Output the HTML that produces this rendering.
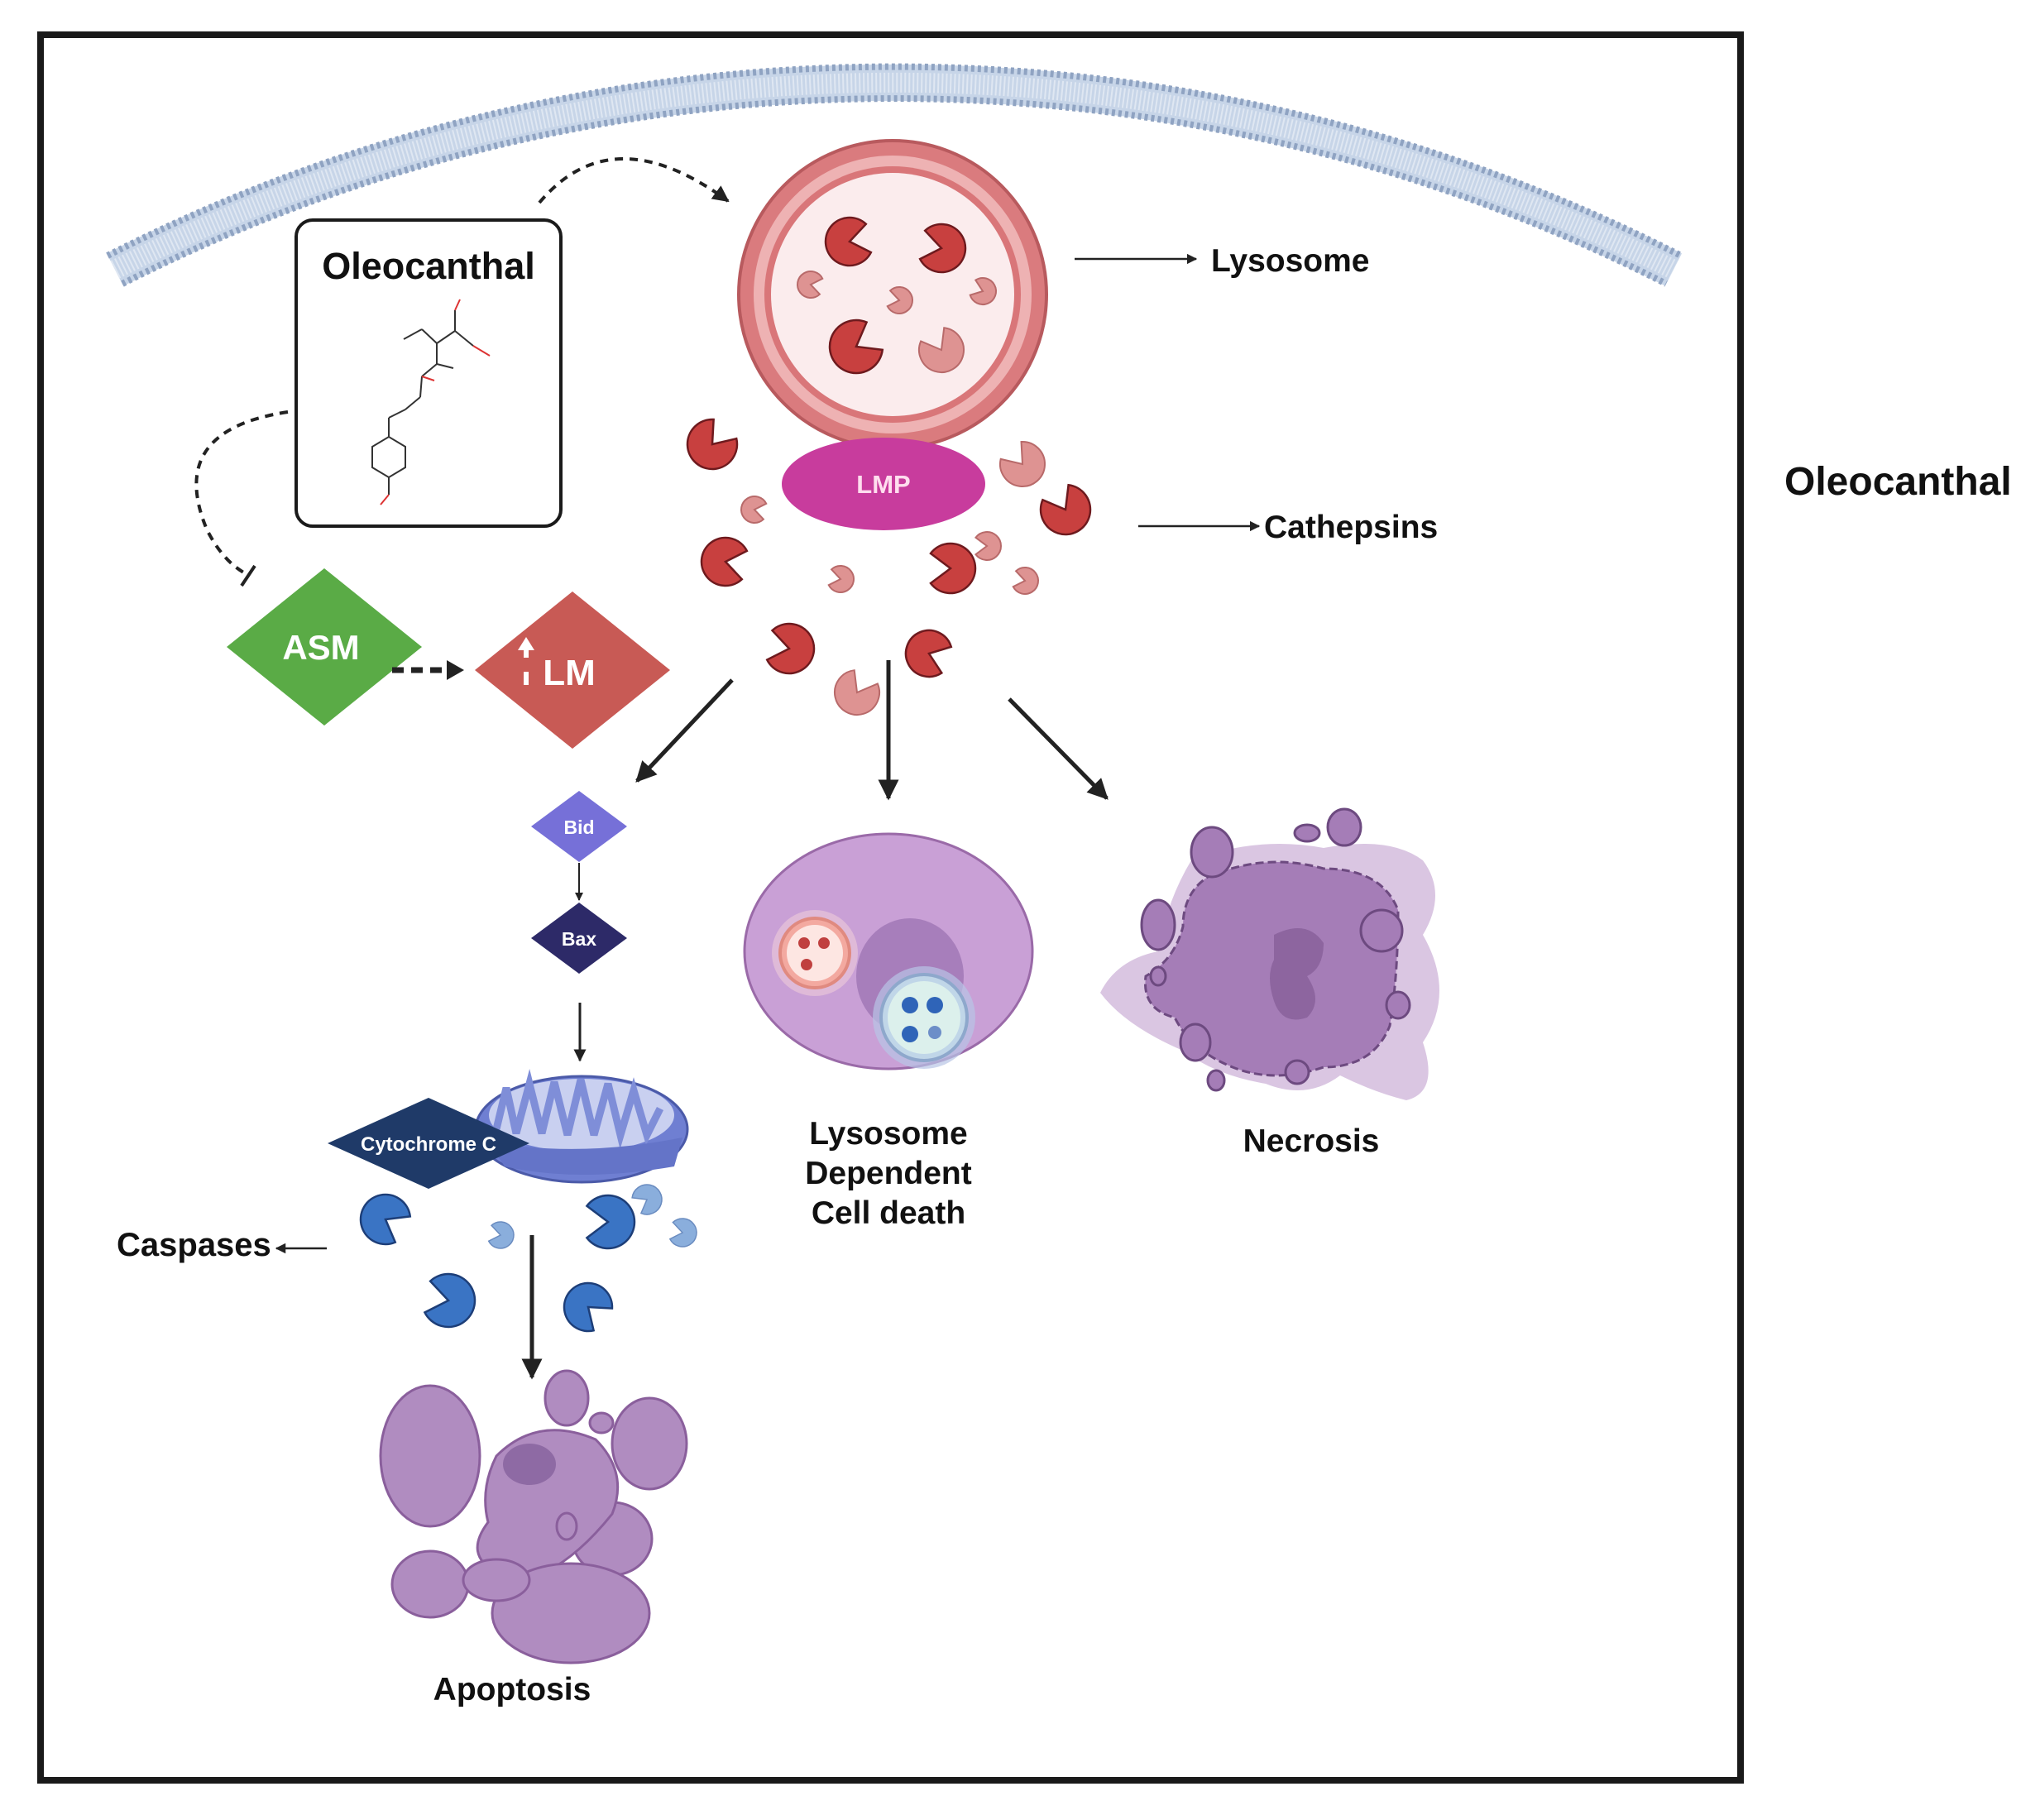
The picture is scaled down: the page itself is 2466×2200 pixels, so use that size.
<!DOCTYPE html>
<html><head><meta charset="utf-8"><style>
html,body{margin:0;padding:0;background:#fff;}
svg{display:block;}
text{font-family:"Liberation Sans",sans-serif;}
</style></head><body>
<svg width="2466" height="2200" viewBox="0 0 2466 2200" xmlns="http://www.w3.org/2000/svg">
<defs>
<path id="pm" d="M0 0 L0.8 -0.6 A1 1 0 1 0 0.8 0.6Z" vector-effect="non-scaling-stroke"/>
<marker id="ahs" viewBox="0 0 10 10" refX="9" refY="5" markerWidth="5" markerHeight="5" orient="auto"><path d="M0 0L10 5L0 10z" fill="#222"/></marker>
<marker id="ahb" viewBox="0 0 10 10" refX="9" refY="5" markerWidth="5" markerHeight="5" orient="auto"><path d="M0 0L10 5L0 10z" fill="#222"/></marker>
</defs>
<rect x="49" y="42" width="2055" height="2110" fill="#fff" stroke="#1a1a1a" stroke-width="8"/>
<path d="M139 326 A2075 2075 0 0 1 2023 326" fill="none" stroke="#c7d5e8" stroke-width="44"/>
<path d="M130 309 A2094 2094 0 0 1 2032 309" fill="none" stroke="#8fa3c2" stroke-width="8" stroke-dasharray="4 4"/>
<path d="M148 343 A2056 2056 0 0 1 2014 343" fill="none" stroke="#8fa3c2" stroke-width="8" stroke-dasharray="4 4"/>
<path d="M139 326 A2075 2075 0 0 1 2023 326" fill="none" stroke="#dfe7f2" stroke-width="24" stroke-dasharray="2 3"/>
<path d="M652 245 Q740 140 880 243" fill="none" stroke="#222" stroke-width="4" stroke-dasharray="10 8" marker-end="url(#ahs)"/>
<path d="M348 498 Q200 520 250 640 Q270 680 300 695" fill="none" stroke="#222" stroke-width="4" stroke-dasharray="10 8"/>
<line x1="292" y1="708" x2="308" y2="684" stroke="#222" stroke-width="4"/>
<rect x="358" y="266" width="320" height="370" rx="20" fill="#fff" stroke="#1a1a1a" stroke-width="4"/>
<text x="518" y="337" font-size="45" font-weight="bold" text-anchor="middle" fill="#111">Oleocanthal</text>
<g stroke="#333" stroke-width="2" fill="none">
<polygon points="450,540 470,528 490,540 490,565 470,577 450,565"/>
<line x1="470" y1="528" x2="470" y2="505"/><line x1="470" y1="505" x2="490" y2="495"/>
<line x1="490" y1="495" x2="508" y2="480"/><line x1="508" y1="480" x2="510" y2="455"/>
<line x1="510" y1="455" x2="528" y2="440"/><line x1="528" y1="440" x2="528" y2="415"/>
<line x1="528" y1="415" x2="510" y2="398"/><line x1="528" y1="415" x2="550" y2="400"/>
<line x1="550" y1="400" x2="572" y2="418"/><line x1="510" y1="398" x2="488" y2="410"/>
<line x1="550" y1="400" x2="550" y2="375"/><line x1="528" y1="440" x2="548" y2="445"/>
<line x1="470" y1="577" x2="470" y2="598"/>
</g>
<g stroke="#d33" stroke-width="2"><line x1="550" y1="375" x2="556" y2="362"/><line x1="572" y1="418" x2="592" y2="430"/><line x1="510" y1="455" x2="525" y2="460"/><line x1="470" y1="598" x2="460" y2="610"/></g>
<polygon points="392,687 510,782 392,877 274,782" fill="#5aab46"/>
<text x="388" y="797" font-size="42" font-weight="bold" fill="#fff" text-anchor="middle">ASM</text>
<line x1="474" y1="810" x2="540" y2="810" stroke="#222" stroke-width="7" stroke-dasharray="14 9"/>
<polygon points="540,798 561,810 540,822" fill="#222"/>
<polygon points="692,715 810,810 692,905 574,810" fill="#c85a55"/>
<text x="688" y="828" font-size="44" font-weight="bold" fill="#fff" text-anchor="middle">LM</text>
<polygon points="636,770 646,786 626,786" fill="#fff"/><rect x="633" y="786" width="6" height="9" fill="#fff"/><rect x="633" y="812" width="6" height="16" fill="#fff"/>
<circle cx="1079" cy="356" r="186" fill="#da7b7e" stroke="#b85a5e" stroke-width="4"/>
<circle cx="1079" cy="356" r="168" fill="#eeb2b3"/>
<circle cx="1079" cy="356" r="155" fill="#d97679"/>
<circle cx="1079" cy="356" r="147" fill="#fbeced"/>
<ellipse cx="1068" cy="585" rx="123" ry="56" fill="#c83c9d"/>
<text x="1068" y="596" font-size="31" font-weight="bold" fill="#fde" text-anchor="middle">LMP</text>
<g stroke="#6e1a1e" stroke-width="2.5" fill="#c8403f">
<use href="#pm" transform="translate(1027 292) scale(29) rotate(-10)"/>
<use href="#pm" transform="translate(1138 300) scale(29) rotate(190)"/>
<use href="#pm" transform="translate(1035 419) scale(32) rotate(-30)"/>
<use href="#pm" transform="translate(861 537) scale(30) rotate(-50)"/>
<use href="#pm" transform="translate(1288 616) scale(30) rotate(-120)"/>
<use href="#pm" transform="translate(877 679) scale(29) rotate(10)"/>
<use href="#pm" transform="translate(1149 687) scale(30) rotate(180)"/>
<use href="#pm" transform="translate(954 784) scale(30) rotate(190)"/>
<use href="#pm" transform="translate(1123 790) scale(28) rotate(20)"/>
</g>
<g stroke="#b86a6a" stroke-width="2" fill="#de9392">
<use href="#pm" transform="translate(980 344) scale(16) rotate(10)"/>
<use href="#pm" transform="translate(1087 363) scale(16) rotate(190)"/>
<use href="#pm" transform="translate(1188 352) scale(16) rotate(200)"/>
<use href="#pm" transform="translate(1138 423) scale(27) rotate(-120)"/>
<use href="#pm" transform="translate(1236 561) scale(27) rotate(-130)"/>
<use href="#pm" transform="translate(912 616) scale(16) rotate(10)"/>
<use href="#pm" transform="translate(1016 700) scale(16) rotate(190)"/>
<use href="#pm" transform="translate(1193 660) scale(17) rotate(180)"/>
<use href="#pm" transform="translate(1239 702) scale(16) rotate(190)"/>
<use href="#pm" transform="translate(1036 837) scale(27) rotate(-60)"/>
</g>
<line x1="1299" y1="313" x2="1446" y2="313" stroke="#222" stroke-width="2.5" marker-end="url(#ahs)"/>
<text x="1464" y="328" font-size="39" font-weight="bold" fill="#111">Lysosome</text>
<line x1="1376" y1="636" x2="1522" y2="636" stroke="#222" stroke-width="2.5" marker-end="url(#ahs)"/>
<text x="1528" y="650" font-size="39" font-weight="bold" fill="#111">Cathepsins</text>
<text x="2157" y="598" font-size="48" font-weight="bold" fill="#111">Oleocanthal</text>
<line x1="885" y1="822" x2="770" y2="944" stroke="#222" stroke-width="5" marker-end="url(#ahb)"/>
<line x1="1074" y1="798" x2="1074" y2="965" stroke="#222" stroke-width="5" marker-end="url(#ahb)"/>
<line x1="1220" y1="845" x2="1338" y2="965" stroke="#222" stroke-width="5" marker-end="url(#ahb)"/>
<polygon points="700,956 758,999 700,1042 642,999" fill="#7670d8"/>
<text x="700" y="1008" font-size="23" font-weight="bold" fill="#fff" text-anchor="middle">Bid</text>
<line x1="700" y1="1043" x2="700" y2="1088" stroke="#222" stroke-width="2" marker-end="url(#ahs)"/>
<polygon points="700,1091 758,1134 700,1177 642,1134" fill="#2d2a68"/>
<text x="700" y="1143" font-size="23" font-weight="bold" fill="#fff" text-anchor="middle">Bax</text>
<line x1="701" y1="1212" x2="701" y2="1282" stroke="#222" stroke-width="3" marker-end="url(#ahs)"/>
<ellipse cx="703" cy="1365" rx="128" ry="64" fill="#6f7fd2" stroke="#4b5aa8" stroke-width="3"/>
<ellipse cx="703" cy="1348" rx="112" ry="44" fill="#c9d0f0"/>
<path d="M600 1365 L612 1315 L624 1370 L640 1310 L655 1370 L670 1308 L686 1372 L702 1305 L718 1372 L735 1310 L750 1372 L766 1318 L782 1372 L798 1340" fill="none" stroke="#7f8ed8" stroke-width="9"/>
<path d="M590 1380 Q700 1400 825 1375 L815 1410 Q700 1430 610 1410Z" fill="#6474c8"/>
<polygon points="518,1327 640,1382 518,1437 396,1382" fill="#1f3a68"/>
<text x="518" y="1391" font-size="24" font-weight="bold" fill="#fff" text-anchor="middle">Cytochrome C</text>
<g stroke="#1d3e78" stroke-width="2.5" fill="#3a74c4">
<use href="#pm" transform="translate(466 1474) scale(30) rotate(30)"/>
<use href="#pm" transform="translate(735 1477) scale(32) rotate(180)"/>
<use href="#pm" transform="translate(542 1572) scale(32) rotate(190)"/>
<use href="#pm" transform="translate(711 1580) scale(29) rotate(40)"/>
</g>
<g stroke="#6a8cc0" stroke-width="1.5" fill="#8aaedc">
<use href="#pm" transform="translate(605 1493) scale(16) rotate(190)"/>
<use href="#pm" transform="translate(782 1450) scale(18) rotate(150)"/>
<use href="#pm" transform="translate(825 1490) scale(17) rotate(190)"/>
</g>
<line x1="395" y1="1509" x2="334" y2="1509" stroke="#222" stroke-width="2.5" marker-end="url(#ahs)"/>
<text x="141" y="1518" font-size="40" font-weight="bold" fill="#111">Caspases</text>
<line x1="643" y1="1493" x2="643" y2="1665" stroke="#222" stroke-width="5" marker-end="url(#ahb)"/>
<g fill="#b08cc0" stroke="#8a5f9c" stroke-width="3">
<ellipse cx="520" cy="1760" rx="60" ry="85"/>
<ellipse cx="685" cy="1690" rx="26" ry="33"/>
<ellipse cx="785" cy="1745" rx="45" ry="55"/>
<ellipse cx="740" cy="1860" rx="48" ry="44"/>
<ellipse cx="520" cy="1915" rx="46" ry="40"/>
<path d="M600 1760 Q650 1710 720 1740 Q760 1780 740 1830 Q700 1880 660 1900 Q620 1930 600 1900 Q560 1880 590 1840 Q580 1800 600 1760Z"/>
<ellipse cx="690" cy="1950" rx="95" ry="60"/>
<ellipse cx="600" cy="1910" rx="40" ry="25"/>
<ellipse cx="727" cy="1720" rx="14" ry="12"/>
<ellipse cx="685" cy="1845" rx="12" ry="16"/>
</g>
<ellipse cx="640" cy="1770" rx="32" ry="25" fill="#8e6aa4"/>
<text x="619" y="2055" font-size="39" font-weight="bold" fill="#111" text-anchor="middle">Apoptosis</text>
<ellipse cx="1074" cy="1150" rx="174" ry="142" fill="#c9a0d6" stroke="#9a6aa8" stroke-width="3"/>
<ellipse cx="1100" cy="1180" rx="65" ry="70" fill="#a77ebb"/>
<circle cx="985" cy="1152" r="52" fill="#e8c4d8" opacity="0.7"/>
<circle cx="985" cy="1152" r="42" fill="#f3a9a0" stroke="#e08a80" stroke-width="4"/>
<circle cx="985" cy="1152" r="34" fill="#fde6e2"/>
<circle cx="1117" cy="1230" r="62" fill="#b8c4e6" opacity="0.7"/>
<circle cx="1117" cy="1230" r="52" fill="#c0d6e8" stroke="#8ea8cc" stroke-width="4"/>
<circle cx="1117" cy="1230" r="44" fill="#dcf0ec"/>
<g fill="#c0403f"><circle cx="972" cy="1140" r="7"/><circle cx="996" cy="1140" r="7"/><circle cx="975" cy="1166" r="7"/></g>
<g fill="#2f64b8"><circle cx="1100" cy="1215" r="10"/><circle cx="1130" cy="1215" r="10"/><circle cx="1100" cy="1250" r="10"/><circle cx="1130" cy="1248" r="8" fill="#6d8ec8"/></g>
<text x="1074" y="1383" font-size="39" font-weight="bold" fill="#111" text-anchor="middle">Lysosome</text>
<text x="1074" y="1431" font-size="39" font-weight="bold" fill="#111" text-anchor="middle">Dependent</text>
<text x="1074" y="1479" font-size="39" font-weight="bold" fill="#111" text-anchor="middle">Cell death</text>
<path d="M1440 1040 Q1520 1010 1600 1025 Q1680 1010 1720 1040 Q1750 1080 1720 1130 Q1760 1200 1720 1260 Q1740 1320 1700 1330 Q1660 1320 1620 1300 Q1580 1330 1530 1310 Q1470 1300 1430 1270 Q1360 1240 1330 1200 Q1350 1160 1400 1150 Q1410 1090 1440 1040Z" fill="#dac6e2"/>
<path d="M1460 1060 Q1530 1030 1600 1050 Q1670 1050 1690 1100 Q1690 1180 1680 1240 Q1660 1290 1600 1290 Q1540 1310 1490 1290 Q1440 1270 1420 1230 Q1380 1220 1385 1180 Q1420 1160 1430 1120 Q1430 1080 1460 1060Z" fill="#a57db7" stroke="#6d4a80" stroke-width="3" stroke-dasharray="10 5"/>
<path d="M1540 1130 Q1580 1110 1600 1140 Q1600 1170 1580 1180 Q1600 1210 1580 1230 Q1550 1240 1540 1210 Q1530 1180 1540 1160Z" fill="#8d659f"/>
<g fill="#a57db7" stroke="#6d4a80" stroke-width="3">
<ellipse cx="1400" cy="1118" rx="20" ry="30"/>
<ellipse cx="1465" cy="1030" rx="25" ry="30"/>
<ellipse cx="1625" cy="1000" rx="20" ry="22"/>
<ellipse cx="1580" cy="1007" rx="15" ry="10"/>
<ellipse cx="1670" cy="1125" rx="25" ry="25"/>
<ellipse cx="1690" cy="1215" rx="14" ry="16"/>
<ellipse cx="1445" cy="1260" rx="18" ry="22"/>
<ellipse cx="1568" cy="1296" rx="14" ry="14"/>
<ellipse cx="1470" cy="1306" rx="10" ry="12"/>
<ellipse cx="1400" cy="1180" rx="9" ry="11"/>
</g>
<text x="1585" y="1392" font-size="39" font-weight="bold" fill="#111" text-anchor="middle">Necrosis</text>
</svg>
</body></html>
